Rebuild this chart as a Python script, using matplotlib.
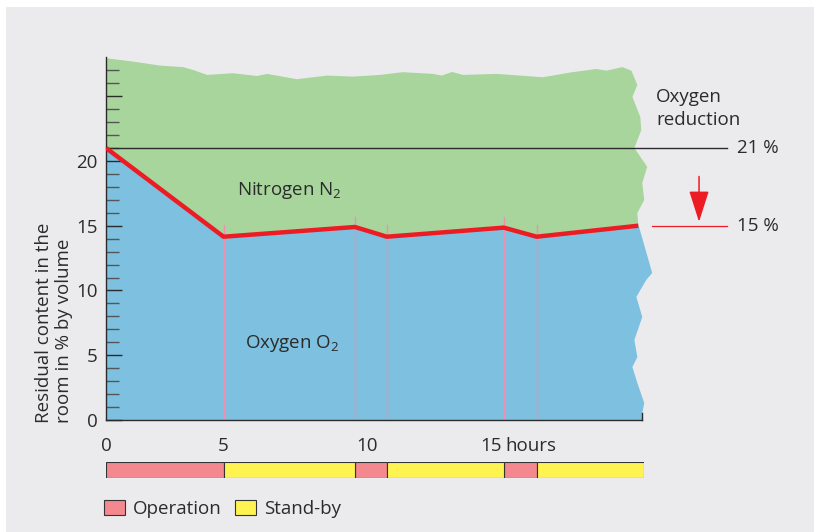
import numpy as np
import matplotlib
matplotlib.use("Agg")
import matplotlib.pyplot as plt
from matplotlib.patches import Patch, Rectangle

plt.rcParams['font.family'] = ['Open Sans', 'DejaVu Sans']
plt.rcParams['mathtext.fontset'] = 'custom'
plt.rcParams['mathtext.rm'] = 'Open Sans'
plt.rcParams['mathtext.it'] = 'Open Sans:italic'

# ---- data (x in hours, y in % by volume) ----
o2_hours = [0, 5.0, 9.58, 10.8, 15.52, 16.85, 20.97]
o2_level = [21.0, 14.15, 14.9, 14.15, 14.85, 14.15, 15.0]
marker_top = [15.06, 15.7, 15.06, 15.7, 15.06]   # pink switch lines

operation = [(0, 5.0), (9.58, 10.8), (15.52, 16.85)]
standby = [(5.0, 9.58), (10.8, 15.52), (16.85, 21.2)]

# torn-paper edges of the drawing
top_x = [0, 1.15, 2.30, 3.28, 3.70, 4.30, 5.33, 6.17, 6.52, 7.56, 8.61, 9.51,
         10.52, 11.45, 12.66, 13.02, 13.43, 13.87, 15.24, 17.10, 18.19, 19.27,
         19.68, 20.32, 20.69, 20.93]
top_y = [27.93, 27.67, 27.36, 27.24, 27.03, 26.64, 26.77, 26.56, 26.72, 26.31,
         26.59, 26.51, 26.64, 26.85, 26.72, 26.59, 26.87, 26.64, 26.72, 26.46,
         26.82, 27.10, 26.97, 27.24, 26.97, 25.87]
n2_edge_x = [20.73, 21.05, 21.09, 20.81, 21.33, 21.13, 21.21, 20.93]
n2_edge_y = [24.94, 23.40, 22.39, 21.00, 19.54, 18.30, 16.99, 15.98]
o2_edge_x = [21.01, 21.53, 21.29, 20.89, 21.13, 20.81, 20.93, 20.73, 20.93,
             21.21, 21.13, 21.13]
o2_edge_y = [14.83, 11.35, 10.81, 9.50, 7.95, 6.18, 4.86, 4.09, 2.86, 1.31,
             0.54, 0.0]

normal_o2 = 21
reduced_o2 = 15

# the hour axis of the original is drawn a bit uneven
h_anchor = [-10, 0, 5, 10, 15, 21.2, 40]
p_anchor = [-235, 0, 117.5, 261, 385, 538, 1004]


def fwd(h):
    return np.interp(h, h_anchor, p_anchor)


def inv(p):
    return np.interp(p, p_anchor, h_anchor)


green = '#a8d59c'
blue = '#7dc0df'
red = '#ed1c24'
pink_line = '#ef8fb3'
op_col = '#f4888f'
sb_col = '#fff352'
ink = '#2b2b2b'
fs = 13.5

fig = plt.figure(figsize=(8.14, 5.32), dpi=100, facecolor='white')
fig.add_artist(Rectangle((6 / 814, 0), 1, 525 / 532, transform=fig.transFigure,
                         facecolor='#ebebee', edgecolor='none', zorder=-10))

ax = fig.add_axes([106 / 814, 112 / 532, 538 / 814, 362.7 / 532])
ax.set_xscale('function', functions=(fwd, inv))
ax.set_xlim(0, 21.2)
ax.set_ylim(0, 28.0)
ax.patch.set_visible(False)

# nitrogen area (above the O2 line) and oxygen area (below)
gx = top_x + n2_edge_x + o2_hours[::-1]
gy = top_y + n2_edge_y + o2_level[::-1]
ax.fill(gx, gy, color=green, lw=0, clip_on=False, zorder=1)
bx = o2_hours + o2_edge_x + [0]
by = o2_level + o2_edge_y + [0]
ax.fill(bx, by, color=blue, lw=0, clip_on=False, zorder=1)

for h, t in zip(o2_hours[1:-1], marker_top):
    ax.plot([h, h], [0, t], color=pink_line, lw=1, zorder=2)

ax.plot(o2_hours, o2_level, color=red, lw=3.2, solid_capstyle='butt', zorder=4)

# reference lines and annotation on the right
ax.plot([0, 24.55], [normal_o2, normal_o2], color=ink, lw=1, clip_on=False, zorder=3)
ax.plot([21.52, 24.55], [reduced_o2, reduced_o2], color=red, lw=0.9, clip_on=False)
ax.annotate('', xy=(23.42, 15.3), xytext=(23.42, 18.8), annotation_clip=False,
            arrowprops=dict(arrowstyle='-|>,head_length=0.97,head_width=0.31',
                            mutation_scale=20, color=red, lw=1.1,
                            shrinkA=0, shrinkB=0))
ax.text(24.95, normal_o2, '21 %', fontsize=fs, color=ink, va='center', ha='left')
ax.text(24.95, reduced_o2, '15 %', fontsize=fs, color=ink, va='center', ha='left')
ax.text(21.68, 24.05, 'Oxygen\nreduction', fontsize=fs, color=ink,
        va='center', ha='left', linespacing=1.42)

ax.text(5.47, 17.7, 'Nitrogen N$_2$', fontsize=fs, color=ink, va='center', ha='left')
ax.text(5.75, 5.9, 'Oxygen O$_2$', fontsize=fs, color=ink, va='center', ha='left')

# axes styling
for s in ['top', 'right']:
    ax.spines[s].set_visible(False)
ax.spines['left'].set_color(ink)
ax.spines['left'].set_linewidth(1)
ax.spines['bottom'].set_color(ink)
ax.spines['bottom'].set_linewidth(1)
ax.spines['bottom'].set_bounds(0, 21.13)
ax.plot([21.13, 21.13], [0, 0.55], color=ink, lw=1, clip_on=False)

ax.set_yticks([0, 5, 10, 15, 20, 25])
ax.set_yticklabels(['0', '5', '10', '15', '20', ''])
ax.set_yticks([v for v in range(1, 28) if v % 5], minor=True)
ax.tick_params(axis='y', which='major', direction='in', length=11.5, width=1,
               color=ink, pad=6, labelsize=fs, labelcolor=ink)
ax.tick_params(axis='y', which='minor', direction='in', length=9.4, width=1,
               color='#555555')
ax.set_xticks([0, 5, 10, 15])
ax.set_xticks([], minor=True)
ax.set_xticklabels(['0', '5', '10', '15'])
ax.tick_params(axis='x', length=0, pad=12.5, labelsize=fs, labelcolor=ink)
ax.annotate('hours', xy=(15, 0), xytext=(10.5, -12.5), textcoords='offset points',
            ha='left', va='top', fontsize=fs, color=ink, annotation_clip=False)

fig.text(54 / 814, 109 / 532, 'Residual content in the\nroom in % by volume',
         rotation=90, ha='center', va='bottom', multialignment='left',
         fontsize=fs, color=ink, linespacing=1.1)

# operation / stand-by timeline
ax2 = fig.add_axes([106 / 814, 54.3 / 532, 538 / 814, 16 / 532], sharex=ax)
for a, b in operation:
    ax2.barh(0, b - a, left=a, height=1, color=op_col, edgecolor='#333333', lw=0.8)
for a, b in standby:
    ax2.barh(0, b - a, left=a, height=1, color=sb_col, edgecolor='#333333', lw=0.8)
ax2.set_ylim(-0.5, 0.5)
ax2.axis('off')

handles = [Patch(facecolor=op_col, edgecolor='#333333', lw=0.8),
           Patch(facecolor=sb_col, edgecolor='#333333', lw=0.8)]
fig.legend(handles, ['Operation', 'Stand-by'], loc='lower left',
           bbox_to_anchor=(104 / 814, 14 / 532), ncol=2, frameon=False,
           fontsize=fs, handlelength=1.12, handleheight=0.9, handletextpad=0.4,
           columnspacing=0.75, borderpad=0, borderaxespad=0,
           labelcolor=ink)

fig.savefig('out.png', dpi=100, facecolor=fig.get_facecolor())
